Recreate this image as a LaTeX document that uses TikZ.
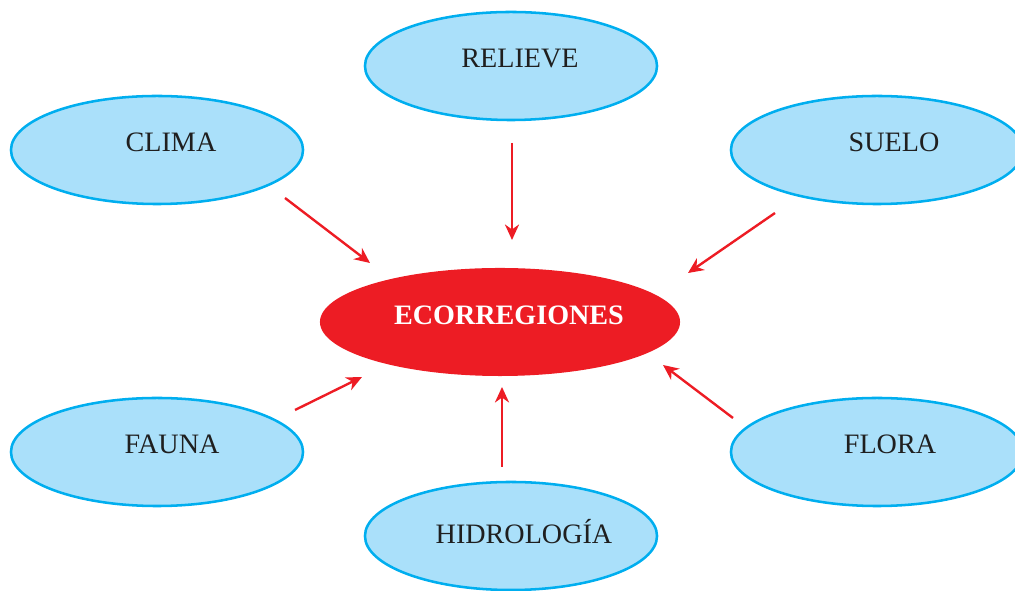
\documentclass[tikz,border=0pt]{standalone}
\usepackage{fontspec}
\setmainfont{Liberation Serif}
\usetikzlibrary{arrows.meta,shapes.geometric}

\definecolor{topicfill}{HTML}{AAE0FA}
\definecolor{topicline}{HTML}{00AEEF}
\definecolor{ecored}{HTML}{ED1C24}

\tikzset{
  every topic/.style={ellipse, draw=topicline, fill=topicfill, line width=1.8pt,
    minimum width=7.3cm, minimum height=2.7cm, inner sep=0pt},
  every label/.style={font=\fontsize{20}{24}\selectfont, text=black!88,
    text height=14pt, text depth=0pt, inner sep=0pt},
  main topic/.style={ellipse, fill=ecored, minimum width=9cm, minimum height=2.7cm, inner sep=0pt},
  link/.style={->, draw=ecored, line width=1.7pt}
}

\begin{document}
\begin{tikzpicture}[x=0.025cm, y=0.025cm, >={Stealth[length=11pt, width=10pt, inset=3.5pt]}]

\useasboundingbox (0,0) rectangle (1015,591);
\clip (0,0) rectangle (1015,591);

% centre
\node [main topic] (eco) at (500,269) {};
\node [every label/.try, text=white, font=\bfseries\fontsize{20}{24}\selectfont]
  (eco-text) at (509,276) {ECORREGIONES};

% topics round the centre
\foreach \n/\t/\x/\y/\dx/\dy in {clima/CLIMA/157/441/14/8, relieve/RELIEVE/511/525/9/8,
    suelo/SUELO/877/441/17/8, fauna/FAUNA/157/139/15/8, flora/FLORA/877/139/13/8,
    hidro/HIDROLOGÍA/511/55/13/2}
{
  \node [every topic/.try] (\n) at (\x,\y) {};
  \node [every label/.try] (\n-text) at (\x+\dx,\y+\dy) {\t};
}

% arrows towards the centre
\foreach \n/\ax/\ay/\bx/\by in {clima/285/393/370/328, relieve/512/448/512/351,
    suelo/775/378/688/318, fauna/295/181/362/214, hidro/502/124/502/204,
    flora/733/173/663/226}
{
  \coordinate (\n-tail) at (\ax,\ay);
  \coordinate (\n-head) at (\bx,\by);
  \draw [link] (\n-tail) -- (\n-head);
}

\end{tikzpicture}
\end{document}
